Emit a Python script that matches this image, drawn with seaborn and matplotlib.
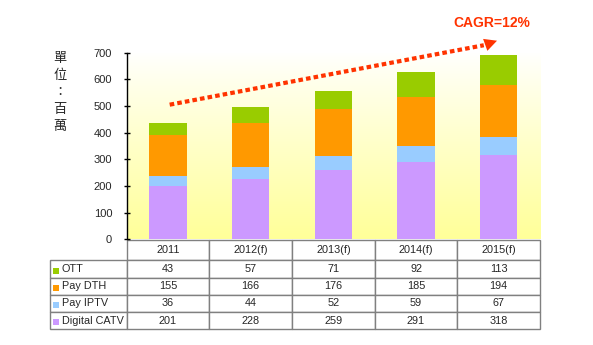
import numpy as np
import pandas as pd
import matplotlib
matplotlib.use("Agg")
import matplotlib.pyplot as plt
import seaborn as sns
from matplotlib.patches import Rectangle

# ---- data ----
years = ["2011", "2012(f)", "2013(f)", "2014(f)", "2015(f)"]
series_names = ["OTT", "Pay DTH", "Pay IPTV", "Digital CATV"]
ott = [43, 57, 71, 92, 113]
pay_dth = [155, 166, 176, 185, 194]
pay_iptv = [36, 44, 52, 59, 67]
digital_catv = [201, 228, 259, 291, 318]
colors = {"OTT": "#99CC00", "Pay DTH": "#FF9900", "Pay IPTV": "#99CCFF", "Digital CATV": "#CC99FF"}
yticks = [0, 100, 200, 300, 400, 500, 600, 700]
cagr_label = "CAGR=12%"
unit_label = "單\n位\n：\n百\n萬"

sns.set_theme(style="white")
plt.rcParams["font.family"] = ["Liberation Sans", "DejaVu Sans"]

W, H = 593, 345
fig = plt.figure(figsize=(W / 100, H / 100), dpi=100)
fig.patch.set_facecolor("white")

ax_l, ax_r, ax_t, ax_b = 126.7, 540.0, 52.7, 239.3
ax = fig.add_axes([ax_l / W, 1 - ax_b / H, (ax_r - ax_l) / W, (ax_b - ax_t) / H])

# gradient background
grad = np.linspace(0, 1, 256).reshape(-1, 1)
top = np.array([1.0, 1.0, 1.0])
bot = np.array([1.0, 1.0, 0x99 / 255])
img = top + (bot - top) * grad[..., None] ** 0.9
ax.imshow(img, extent=[-0.5, 4.5, 0, 700], aspect="auto", origin="upper", zorder=0)

df = pd.DataFrame({"year": years, "OTT": ott, "Pay DTH": pay_dth,
                   "Pay IPTV": pay_iptv, "Digital CATV": digital_catv})
df["c_catv"] = df["Digital CATV"]
df["c_iptv"] = df["c_catv"] + df["Pay IPTV"]
df["c_dth"] = df["c_iptv"] + df["Pay DTH"]
df["c_ott"] = df["c_dth"] + df["OTT"]

for col, name in [("c_ott", "OTT"), ("c_dth", "Pay DTH"), ("c_iptv", "Pay IPTV"), ("c_catv", "Digital CATV")]:
    sns.barplot(data=df, x="year", y=col, order=years, color=colors[name], saturation=1,
                width=0.45, linewidth=0, ax=ax, zorder=2)

ax.set_xlim(-0.5, 4.5)
ax.set_ylim(0, 700)
ax.set_yticks(yticks)
ax.set_yticklabels([str(v) for v in yticks], fontsize=8)
ax.set_xticks([])
ax.set_xlabel("")
ax.set_ylabel("")
for s in ["top", "right", "bottom"]:
    ax.spines[s].set_visible(False)
ax.spines["left"].set_color("black")
ax.spines["left"].set_linewidth(1.0)
ax.tick_params(axis="y", direction="inout", length=5, width=1, color="black", pad=8, left=True)

# arrow (CAGR)
red = "#FF3300"
x0, y0 = 0.02, 505
x1, y1 = 3.82, 728
ax.plot([x0, x1], [y0, y1], color=red, lw=3.0, linestyle=(0, (1.1, 0.75)),
        clip_on=False, zorder=5, solid_capstyle="butt", dash_capstyle="butt")
ax.annotate("", xy=(3.98, 745), xytext=(3.78, 723),
            arrowprops=dict(arrowstyle="-|>,head_length=0.75,head_width=0.38",
                            color=red, lw=0, shrinkA=0, shrinkB=0),
            annotation_clip=False, zorder=6)
fig.text(492 / W, 1 - 23 / H, cagr_label, color=red, fontsize=10, fontweight="bold",
         ha="center", va="center")

# unit label
fig.text(60 / W, 1 - 92.5 / H, unit_label, family=["Noto Sans CJK TC", "DejaVu Sans"],
         fontsize=9.5, ha="center", va="center", linespacing=1.38)

# table
header = [""] + years
rows = [
    ["OTT"] + [str(v) for v in ott],
    ["Pay DTH"] + [str(v) for v in pay_dth],
    ["Pay IPTV"] + [str(v) for v in pay_iptv],
    ["Digital CATV"] + [str(v) for v in digital_catv],
]
cell_text = [header] + rows
axw = ax_r - ax_l
axh = ax_b - ax_t
t_left, t_right, t_top, t_bot = 49.5, 540.0, 240.0, 329.0
bbox = [(t_left - ax_l) / axw, (ax_b - t_bot) / axh,
        (t_right - t_left) / axw, (t_bot - t_top) / axh]
label_w = ax_l - t_left
col_w = (ax_r - ax_l) / 5
tbl = ax.table(cellText=cell_text, colWidths=[label_w] + [col_w] * 5,
               cellLoc="center", bbox=bbox)
tbl.auto_set_font_size(False)
tbl.set_fontsize(7.8)
row_h = [20, 17.8, 17.2, 17.0, 17.0]
for (r, c), cell in tbl.get_celld().items():
    cell.set_edgecolor("#808080")
    cell.set_linewidth(1.0)
    cell.set_facecolor("white")
    cell.set_height(row_h[r])
    if r == 0 and c == 0:
        cell.visible_edges = ""
    if c == 0 and r > 0:
        cell._loc = "left"
        cell.PAD = 0.16
        cell.get_text().set_ha("left")

# colored squares next to row labels
row_centers = [269, 286.5, 303.5, 320.5]
for name, yc in zip(series_names, row_centers):
    sx, sy = 53.0, yc - 1.5
    sz = 6.0
    ax.add_patch(Rectangle(((sx - ax_l) / axw, (ax_b - (sy + sz)) / axh),
                           sz / axw, sz / axh, transform=ax.transAxes,
                           facecolor=colors[name], edgecolor="none",
                           clip_on=False, zorder=10))

fig.savefig("out.png", dpi=100, facecolor="white")
